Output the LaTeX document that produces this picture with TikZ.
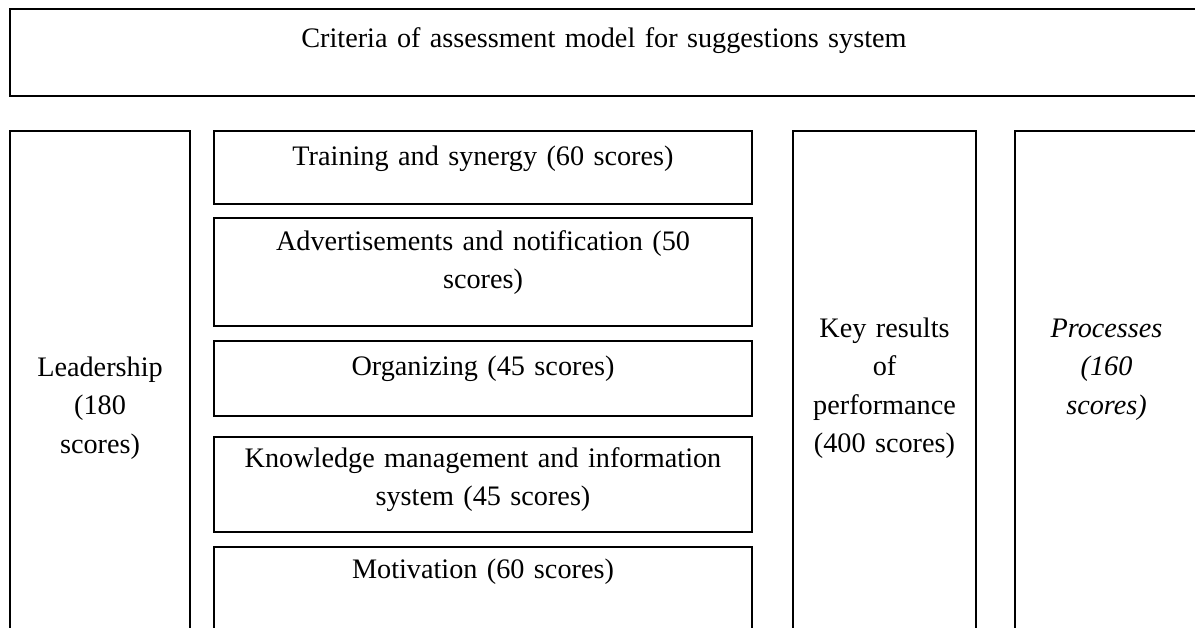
\documentclass[tikz,border=0pt]{standalone}
\usepackage{fontspec}
\setmainfont{Liberation Serif}
\usetikzlibrary{fit}

\tikzset{
  critbox/.style={draw, line width=0.8pt, rectangle, inner sep=0pt},
  crittext/.style={align=center, inner sep=0pt, anchor=base,
    font=\fontsize{11.8}{16.1}\selectfont},
}

\begin{document}
\begin{tikzpicture}[x=0.418pt,y=-0.418pt]
  \useasboundingbox (0,0) rectangle (1195,627);
  \clip (0,0) rectangle (1195,627);

  % boxes
  \node[critbox, fit={(10,9) (1198,96)}] (title) {};
  \node[critbox, fit={(10,131) (190,700)}] (lead) {};
  \node[critbox, fit={(214,131) (752,204)}] (train) {};
  \node[critbox, fit={(214,218) (752,326)}] (advert) {};
  \node[critbox, fit={(214,341) (752,416)}] (organ) {};
  \node[critbox, fit={(214,437) (752,532)}] (know) {};
  \node[critbox, fit={(214,547) (752,700)}] (motiv) {};
  \node[critbox, fit={(793,131) (976,700)}] (keyres) {};
  \node[critbox, fit={(1015,131) (1198,700)}] (proc) {};

  % texts
  \node[crittext, text width=480pt] (titletxt) at (title.north |- 0,47)
    {Criteria of assessment model for suggestions system};
  \node[crittext, text width=70pt] (leadtxt) at (lead.north |- 0,376)
    {Leadership\\(180\\scores)};
  \node[crittext, text width=215pt] (traintxt) at (train.north |- 0,165)
    {Training and synergy (60 scores)};
  \node[crittext, text width=215pt] (adverttxt) at (advert.north |- 0,250)
    {Advertisements and notification (50\\scores)};
  \node[crittext, text width=215pt] (organtxt) at (organ.north |- 0,375)
    {Organizing (45 scores)};
  \node[crittext, text width=215pt] (knowtxt) at (know.north |- 0,467)
    {Knowledge management and information\\system (45 scores)};
  \node[crittext, text width=215pt] (motivtxt) at (motiv.north |- 0,578)
    {Motivation (60 scores)};
  \node[crittext, text width=72pt] (keyrestxt) at (keyres.north |- 0,337)
    {Key results\\of\\performance\\(400 scores)};
  \node[crittext, text width=72pt, font=\fontsize{11.8}{16.1}\selectfont\itshape] (proctxt)
    at (proc.north |- 0,337) {Processes\\(160\\scores)};
\end{tikzpicture}
\end{document}
